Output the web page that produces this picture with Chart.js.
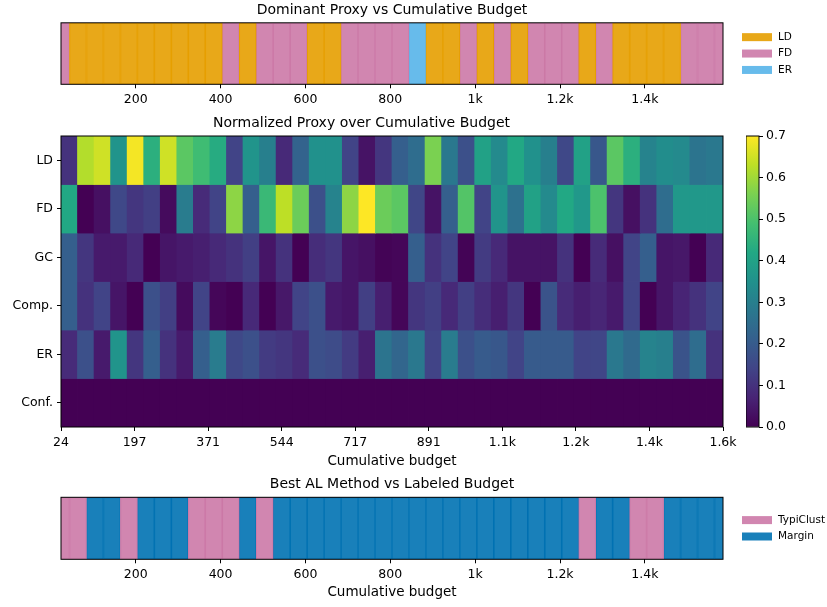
<!DOCTYPE html>
<html>
<head>
<meta charset="utf-8">
<script src="https://cdn.jsdelivr.net/npm/chart.js@4.4.1/dist/chart.umd.min.js"></script>
<style>
  body { margin: 0; background: #fff; }
  #wrap { position: relative; width: 827px; height: 607px; }
  #wrap > div { position: absolute; }
</style>
</head>
<body>
<div id="wrap">
  <div style="left:0;top:0;width:827px;height:112px"><canvas id="proxyStrip"></canvas></div>
  <div style="left:0;top:112px;width:746px;height:358px"><canvas id="heatmap"></canvas></div>
  <div style="left:746px;top:112px;width:81px;height:358px"><canvas id="colorbar"></canvas></div>
  <div style="left:0;top:470px;width:827px;height:137px"><canvas id="methodStrip"></canvas></div>
</div>
<script>
// --- data ---
const budgets = [24, 64, 104, 144, 184, 224, 264, 304, 344, 384, 424, 464, 504, 544, 584, 624, 664, 704, 744, 784,
                 824, 864, 904, 944, 984, 1024, 1064, 1104, 1144, 1184, 1224, 1264, 1304, 1344, 1384, 1424, 1464, 1504, 1544, 1584];

const proxyNames = ['LD', 'FD', 'ER'];
const dominantProxy = ['FD', 'LD', 'LD', 'LD', 'LD', 'LD', 'LD', 'LD', 'LD', 'LD',
                       'FD', 'LD', 'FD', 'FD', 'FD', 'LD', 'LD', 'FD', 'FD', 'FD',
                       'FD', 'ER', 'LD', 'LD', 'FD', 'LD', 'FD', 'LD', 'FD', 'FD',
                       'FD', 'LD', 'FD', 'LD', 'LD', 'LD', 'LD', 'FD', 'FD', 'FD'];

const methodNames = ['TypiClust', 'Margin'];
const bestMethod = ['TypiClust', 'TypiClust', 'Margin', 'Margin', 'TypiClust', 'Margin', 'Margin', 'Margin', 'TypiClust', 'TypiClust',
                    'TypiClust', 'Margin', 'TypiClust', 'Margin', 'Margin', 'Margin', 'Margin', 'Margin', 'Margin', 'Margin',
                    'Margin', 'Margin', 'Margin', 'Margin', 'Margin', 'Margin', 'Margin', 'Margin', 'Margin', 'Margin',
                    'Margin', 'TypiClust', 'Margin', 'Margin', 'TypiClust', 'TypiClust', 'Margin', 'Margin', 'Margin', 'Margin'];

const heatRows = ['LD', 'FD', 'GC', 'Comp.', 'ER', 'Conf.'];
const ldValues = [0.10, 0.62, 0.65, 0.36, 0.69, 0.44, 0.65, 0.52, 0.48, 0.43, 0.14, 0.36, 0.30, 0.08, 0.22, 0.35, 0.35, 0.14, 0.035, 0.11,
                  0.21, 0.25, 0.56, 0.28, 0.17, 0.40, 0.33, 0.42, 0.35, 0.30, 0.15, 0.40, 0.19, 0.52, 0.44, 0.31, 0.34, 0.33, 0.27, 0.28];
const fdValues = [0.42, 0.0, 0.03, 0.15, 0.11, 0.13, 0.02, 0.29, 0.085, 0.14, 0.58, 0.21, 0.47, 0.63, 0.54, 0.17, 0.31, 0.58, 0.70, 0.54,
                  0.52, 0.145, 0.035, 0.21, 0.51, 0.14, 0.36, 0.26, 0.40, 0.33, 0.42, 0.37, 0.50, 0.11, 0.03, 0.10, 0.25, 0.37, 0.37, 0.37];
const gcValues = [0.21, 0.11, 0.05, 0.05, 0.08, 0.0, 0.04, 0.05, 0.06, 0.08, 0.10, 0.13, 0.04, 0.10, 0.0, 0.09, 0.11, 0.04, 0.03, 0.005,
                  0.01, 0.21, 0.10, 0.14, 0.005, 0.12, 0.08, 0.035, 0.035, 0.035, 0.10, 0.0, 0.085, 0.03, 0.14, 0.21, 0.04, 0.045, 0.0, 0.08];
const compValues = [0.21, 0.10, 0.14, 0.04, 0.0, 0.17, 0.13, 0.02, 0.14, 0.01, 0.0, 0.08, 0.0, 0.045, 0.14, 0.17, 0.05, 0.04, 0.13, 0.06,
                    0.01, 0.11, 0.13, 0.08, 0.13, 0.09, 0.06, 0.11, 0.0, 0.18, 0.085, 0.06, 0.075, 0.05, 0.14, 0.0, 0.04, 0.07, 0.10, 0.14];
const erValues = [0.085, 0.17, 0.05, 0.36, 0.11, 0.21, 0.10, 0.05, 0.21, 0.29, 0.15, 0.17, 0.12, 0.11, 0.085, 0.17, 0.16, 0.12, 0.06, 0.27,
                  0.23, 0.28, 0.14, 0.29, 0.17, 0.20, 0.19, 0.14, 0.20, 0.20, 0.20, 0.14, 0.145, 0.28, 0.24, 0.31, 0.30, 0.18, 0.25, 0.10];
const confValues = [0, 0, 0, 0, 0, 0, 0, 0, 0, 0, 0, 0, 0, 0, 0, 0, 0, 0, 0, 0,
                    0, 0, 0, 0, 0, 0, 0, 0, 0, 0, 0, 0, 0, 0, 0, 0, 0, 0, 0, 0];

const stripTicks = [200, 400, 600, 800, 1000, 1200, 1400];
const stripTickLabels = ['200', '400', '600', '800', '1k', '1.2k', '1.4k'];
const heatTickLabels = ['24', '197', '371', '544', '717', '891', '1.1k', '1.2k', '1.4k', '1.6k'];
const colorbarTicks = [0.0, 0.1, 0.2, 0.3, 0.4, 0.5, 0.6, 0.7];

// --- styling ---
Chart.defaults.font.family = '"DejaVu Sans", sans-serif';
Chart.defaults.color = '#000';
Chart.defaults.animation = false;

const proxyColors = { LD: [230, 159, 0], FD: [204, 121, 167], ER: [86, 180, 233] };
const methodColors = { TypiClust: [204, 121, 167], Margin: [0, 114, 178] };
const rgba = (c, a) => `rgba(${c[0]},${c[1]},${c[2]},${a})`;

const viridis = ['#440154', '#482475', '#414487', '#355f8d', '#2a788e', '#21918c',
                 '#22a884', '#44bf70', '#7ad151', '#bddf26', '#fde725'];
const viridisRgb = viridis.map(h => [1, 3, 5].map(i => parseInt(h.slice(i, i + 2), 16)));
function viridisColor(t) {
  t = Math.min(1, Math.max(0, t)) * (viridisRgb.length - 1);
  const i = Math.min(Math.floor(t), viridisRgb.length - 2), f = t - i;
  const a = viridisRgb[i], b = viridisRgb[i + 1];
  return `rgb(${a.map((v, j) => Math.round(v + (b[j] - v) * f)).join(',')})`;
}

const lo = budgets[0], hi = budgets[budgets.length - 1];
const step = budgets[1] - budgets[0];
const vmin = colorbarTicks[0], vmax = colorbarTicks[colorbarTicks.length - 1];

const framePlugin = {
  id: 'frame',
  afterDraw(chart) {
    const { ctx, chartArea: a } = chart;
    ctx.save();
    ctx.strokeStyle = '#000';
    ctx.lineWidth = 1;
    ctx.strokeRect(a.left, a.top, a.right - a.left, a.bottom - a.top);
    ctx.restore();
  }
};

const patchLegend = {
  id: 'patchLegend',
  afterDraw(chart, args, opts) {
    if (!opts.items) return;
    const { ctx, chartArea: a } = chart;
    const mid = (a.top + a.bottom) / 2;
    ctx.save();
    ctx.font = '10.5px "DejaVu Sans"';
    ctx.textBaseline = 'middle';
    opts.items.forEach((it, i) => {
      const x = a.right + 19;
      const y = mid + (i - (opts.items.length - 1) / 2) * 16.4;
      ctx.fillStyle = it.color;
      ctx.fillRect(x, y - 4, 30, 8);
      ctx.fillStyle = '#000';
      ctx.fillText(it.label, x + 36, y);
    });
    ctx.restore();
  }
};

const tickGrid = { display: true, drawOnChartArea: false, drawTicks: true, offset: false,
                   tickLength: 4, tickColor: '#000', tickWidth: 1 };

function stripChart(id, names, colors, picks, title, padTop, padBottom, axisHeight, xTitle) {
  return new Chart(document.getElementById(id), {
    type: 'bar',
    data: {
      labels: ['strip'],
      datasets: names.map(n => ({
        label: n,
        data: budgets.map((b, i) => picks[i] === n ? { x: [b - step / 2, b + step / 2], y: 'strip' } : null)
                     .filter(d => d),
        backgroundColor: rgba(colors[n], 0.9),
        borderColor: rgba(colors[n], 1),
        borderWidth: 0.5,
        borderSkipped: false,
        grouped: false,
        clip: 0,
        barPercentage: 1,
        categoryPercentage: 1
      }))
    },
    options: {
      indexAxis: 'y',
      responsive: true,
      maintainAspectRatio: false,
      layout: { padding: { left: 61, right: 104 } },
      plugins: {
        legend: { display: false },
        tooltip: { enabled: false },
        title: { display: true, text: title, font: { size: 14, weight: 'normal' }, padding: { top: padTop, bottom: padBottom } },
        patchLegend: { items: names.map(n => ({ label: n, color: rgba(colors[n], 0.9) })) }
      },
      scales: {
        y: { type: 'category', labels: ['strip'], display: false },
        x: {
          type: 'linear', min: lo, max: hi,
          grid: tickGrid,
          border: { display: false },
          ticks: { font: { size: 12.5 }, padding: 3.5, maxRotation: 0, autoSkip: false,
                   callback: (v, i) => stripTickLabels[i] },
          title: xTitle ? { display: true, text: xTitle, font: { size: 13.5 }, padding: { top: 2, bottom: 6 } } : { display: false },
          afterBuildTicks: s => { s.ticks = stripTicks.map(v => ({ value: v })); },
          afterFit: s => { s.height = axisHeight; }
        }
      }
    },
    plugins: [framePlugin, patchLegend]
  });
}

stripChart('proxyStrip', proxyNames, proxyColors, dominantProxy, 'Dominant Proxy vs Cumulative Budget', 2, 4, 27.7, null);
stripChart('methodStrip', methodNames, methodColors, bestMethod, 'Best AL Method vs Labeled Budget', 5.5, 5, 47.7, 'Cumulative budget');

// heatmap
const heatValues = [ldValues, fdValues, gcValues, compValues, erValues, confValues];
const colW = (hi - lo) / budgets.length;
new Chart(document.getElementById('heatmap'), {
  type: 'bar',
  data: {
    labels: heatRows,
    datasets: heatRows.map((row, r) => ({
      data: heatValues[r].map((v, k) => ({ x: [lo + k * colW, lo + (k + 1) * colW], y: row })),
      backgroundColor: heatValues[r].map(v => viridisColor((v - vmin) / (vmax - vmin))),
      borderWidth: 0,
      inflateAmount: 0.4,
      grouped: false,
      clip: 0,
      barPercentage: 1,
      categoryPercentage: 1
    }))
  },
  options: {
    indexAxis: 'y',
    responsive: true,
    maintainAspectRatio: false,
    layout: { padding: { left: 0, right: 23 } },
    plugins: {
      legend: { display: false },
      tooltip: { enabled: false },
      title: { display: true, text: 'Normalized Proxy over Cumulative Budget', font: { size: 14, weight: 'normal' }, padding: { top: 3, bottom: 4.2 } }
    },
    scales: {
      y: {
        type: 'category', labels: heatRows,
        grid: tickGrid, border: { display: false },
        ticks: { font: { size: 12.5 }, padding: 4 },
        afterFit: s => { s.width = 61; }
      },
      x: {
        type: 'linear', min: lo, max: hi,
        grid: tickGrid, border: { display: false },
        ticks: { font: { size: 12.5 }, padding: 4, maxRotation: 0, autoSkip: false,
                 callback: (v, i) => heatTickLabels[i] },
        title: { display: true, text: 'Cumulative budget', font: { size: 13.5 }, padding: { top: 2, bottom: 0.5 } },
        afterBuildTicks: s => {
          s.ticks = heatTickLabels.map((_, i) => ({ value: lo + i * (hi - lo) / (heatTickLabels.length - 1) }));
        },
        afterFit: s => { s.height = 43; }
      }
    }
  },
  plugins: [framePlugin]
});

// colorbar
new Chart(document.getElementById('colorbar'), {
  type: 'bar',
  data: {
    labels: [''],
    datasets: [{
      data: [[vmin, vmax]],
      backgroundColor(c) {
        const a = c.chart.chartArea;
        if (!a) return null;
        const g = c.chart.ctx.createLinearGradient(0, a.bottom, 0, a.top);
        viridis.forEach((col, i) => g.addColorStop(i / (viridis.length - 1), col));
        return g;
      },
      borderWidth: 0,
      barPercentage: 1,
      categoryPercentage: 1
    }]
  },
  options: {
    responsive: true,
    maintainAspectRatio: false,
    layout: { padding: { top: 24, bottom: 43, left: 0 } },
    plugins: { legend: { display: false }, tooltip: { enabled: false } },
    scales: {
      x: { display: false },
      y: {
        position: 'right', min: vmin, max: vmax,
        grid: tickGrid, border: { display: false },
        ticks: { font: { size: 12.5 }, padding: 3, callback: v => v.toFixed(1) },
        afterBuildTicks: s => { s.ticks = colorbarTicks.map(v => ({ value: v })); },
        afterFit: s => { s.width = 68; }
      }
    }
  },
  plugins: [framePlugin]
});
</script>
</body>
</html>
